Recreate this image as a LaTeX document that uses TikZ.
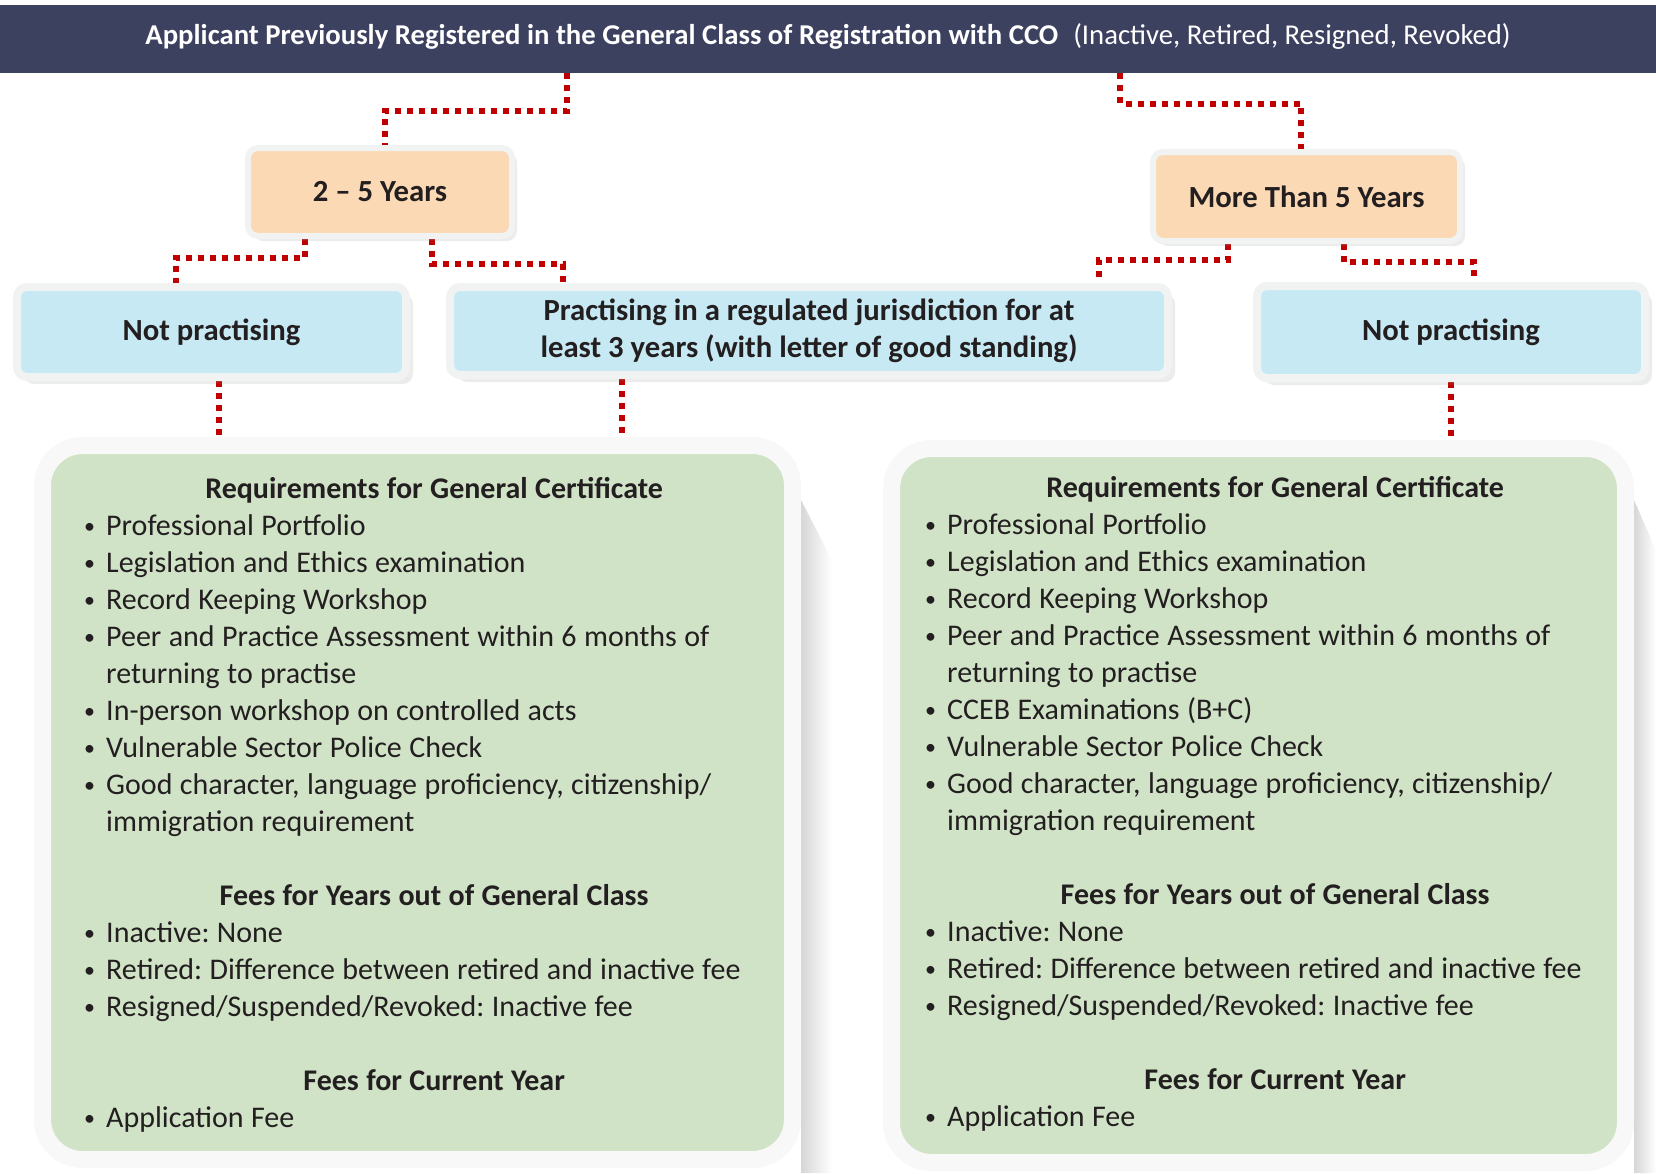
\documentclass[tikz,border=0pt]{standalone}
\usepackage{fontspec}
\setmainfont{Carlito}
\usepackage{xcolor}
\usepackage{tikz}
\usetikzlibrary{shadows,backgrounds}

\definecolor{hdrblue}{RGB}{61,65,96}
\definecolor{dotred}{RGB}{192,0,0}
\definecolor{peach}{RGB}{251,217,180}
\definecolor{skyblue}{RGB}{199,233,243}
\definecolor{sage}{RGB}{208,227,199}
\definecolor{framegray}{RGB}{241,243,243}
\definecolor{framelite}{RGB}{248,248,248}
\definecolor{inkdark}{RGB}{35,31,32}

\newlength\bulw \setlength\bulw{22pt}
\newcommand\tightsp{\spaceskip=7.4pt\relax}
\newcommand\hd[1]{\makebox[\linewidth]{\bfseries #1}}
\newcommand\itm{\makebox[\bulw][l]{\raisebox{2pt}{\fontsize{22}{22}\selectfont •}}}
\newcommand\cnt{\hspace*{\bulw}}

\begin{document}
\frenchspacing
\begin{tikzpicture}[x=1pt,y=1pt,yscale=-1,xscale=1,
  link/.style={draw=dotred, line width=6pt, dash pattern=on 6pt off 6pt},
  yearbox/.style={fill=peach, draw=framegray, line width=6pt, rounded corners=10pt, inner sep=0pt, text=inkdark,
    font=\fontsize{30.7}{37}\selectfont\bfseries, drop shadow={shadow xshift=5pt, shadow yshift=-5pt, opacity=.15}},
  casebox/.style={fill=skyblue, draw=framegray, line width=8pt, rounded corners=10pt, inner sep=0pt, text=inkdark, align=center,
    font=\fontsize{30.7}{37}\selectfont\bfseries, drop shadow={shadow xshift=7pt, shadow yshift=-7pt, opacity=.15}},
  reqbox/.style={fill=sage, draw=framelite, line width=17pt, rounded corners=40pt, inner sep=0pt},
  reqtext/.style={text width=700pt, align=left, inner sep=0pt, text=inkdark, font=\fontsize{30}{37}\selectfont}]
\useasboundingbox (0,0) rectangle (1656,1173);

% Header bar
\node[fill=hdrblue, minimum width=1656pt, minimum height=68pt, inner sep=0pt] (head) at (828,39) {};
\node[text=white, inner sep=0pt, font=\fontsize{28.7}{32}\selectfont] (htitle) at (828,36)
  {{\bfseries Applicant Previously Registered in the General Class of Registration with CCO}\hspace{15pt}(Inactive, Retired, Resigned, Revoked)};

% Year boxes
\node[yearbox, minimum width=264pt, minimum height=88pt] (y25) at (380,192) {2 – 5 Years};
\node[yearbox, minimum width=307pt, minimum height=89pt] (gt5) at (1306.5,196.5) {More Than 5 Years};

% Practice boxes
\node[casebox, minimum width=389pt, minimum height=90pt] (lnp) at (211.5,332) {Not practising};
\node[casebox, minimum width=718pt, minimum height=88pt] (prac) at (809,331)
  {Practising in a regulated jurisdiction for at\\least 3 years (with letter of good standing)};
\node[casebox, minimum width=388pt, minimum height=92pt] (rnp) at (1451,332) {Not practising};

% Requirement boxes
\node[reqbox, minimum width=750pt, minimum height=714pt] (lreq) at (417.5,802.5) {};
\node[reqbox, minimum width=734pt, minimum height=714pt] (rreq) at (1258.5,805.5) {};

\node[reqtext, anchor=base west] (lreqtxt) at (84,498) {\tightsp
\hd{Requirements for General Certificate}\\
\itm Professional Portfolio\\
\itm Legislation and Ethics examination\\
\itm Record Keeping Workshop\\
\itm Peer and Practice Assessment within 6 months of\\
\cnt returning to practise\\
\itm In-person workshop on controlled acts\\
\itm Vulnerable Sector Police Check\\
\itm Good character, language proficiency, citizenship/\\
\cnt immigration requirement\\
\mbox{}\\
\hd{Fees for Years out of General Class}\\
\itm Inactive: None\\
\itm Retired: Difference between retired and inactive fee\\
\itm Resigned/Suspended/Revoked: Inactive fee\\
\mbox{}\\
\hd{Fees for Current Year}\\
\itm Application Fee};

\node[reqtext, anchor=base west] (rreqtxt) at (925,497.5) {\tightsp
\hd{Requirements for General Certificate}\\
\itm Professional Portfolio\\
\itm Legislation and Ethics examination\\
\itm Record Keeping Workshop\\
\itm Peer and Practice Assessment within 6 months of\\
\cnt returning to practise\\
\itm CCEB Examinations (B+C)\\
\itm Vulnerable Sector Police Check\\
\itm Good character, language proficiency, citizenship/\\
\cnt immigration requirement\\
\mbox{}\\
\hd{Fees for Years out of General Class}\\
\itm Inactive: None\\
\itm Retired: Difference between retired and inactive fee\\
\itm Resigned/Suspended/Revoked: Inactive fee\\
\mbox{}\\
\hd{Fees for Current Year}\\
\itm Application Fee};

\begin{scope}[on background layer]
% side shading of requirement boxes
\shade[left color=black!16, right color=white] (801,500) -- (832,560) -- (832,1173) -- (801,1173) -- cycle;
\shade[left color=black!16, right color=white] (1634,500) -- (1656,550) -- (1656,1173) -- (1634,1173) -- cycle;
% Connectors
\draw[link] ([xshift=-261pt]head.south) -- ++(0,38) -| ([xshift=5pt]y25.north);
\draw[link] ([xshift=292pt]head.south) -- ++(0,30.5) -| ([xshift=-5.5pt]gt5.north);
\draw[link] ([xshift=-75pt]y25.south) -- ++(0,18.5) -| ([xshift=-35.5pt]lnp.north);
\draw[link] ([xshift=52pt]y25.south) -- ++(0,25) -| ([xshift=-246pt]prac.north);
\draw[link] ([xshift=-78.5pt]gt5.south) -- ++(0,16) -| ([xshift=290pt]prac.north);
\draw[link] ([xshift=37.5pt]gt5.south) -- ++(0,18) -| ([xshift=23pt]rnp.north);
\draw[link] ([xshift=7.5pt]lnp.south) -- ([xshift=7.5pt]lnp.south |- lreq.north);
\draw[link] ([xshift=-187pt]prac.south) -- ([xshift=-187pt]prac.south |- lreq.north);
\draw[link] (rnp.south) -- (rnp.south |- rreq.north);
\end{scope}

\end{tikzpicture}
\end{document}
